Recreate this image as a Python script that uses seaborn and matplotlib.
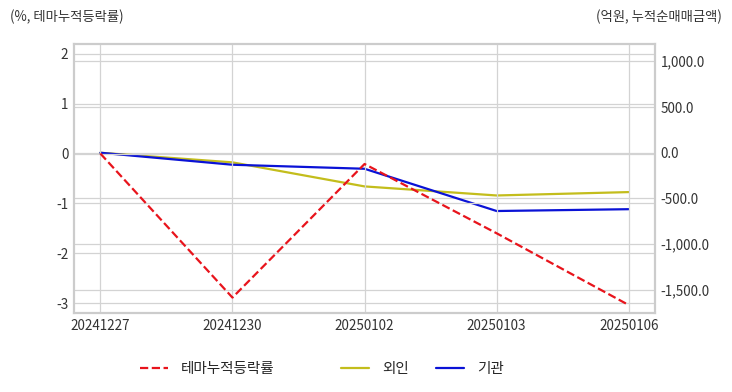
import seaborn as sns
import matplotlib.pyplot as plt
import matplotlib.ticker as mticker
import pandas as pd

dates = ["20241227", "20241230", "20250102", "20250103", "20250106"]
theme_rate = [0.0, -2.89, -0.21, -1.6, -3.04]
foreign = [0.0, -105, -368, -467, -430]
institution = [0.0, -131, -175, -637, -617]

df = pd.DataFrame({
    'date': dates,
    'theme': theme_rate,
    'foreign': foreign,
    'inst': institution,
})

sns.set_style("whitegrid")
plt.rcParams['font.family'] = ['Noto Sans CJK KR', 'DejaVu Sans']
plt.rcParams['axes.unicode_minus'] = False

fig = plt.figure(figsize=(7.32, 3.92), dpi=100)
ax1 = fig.add_axes([0.101, 0.2015, 0.794, 0.6865])
ax2 = ax1.twinx()

sns.lineplot(data=df, x='date', y='theme', ax=ax1, color='#e8141c',
             linestyle='--', linewidth=1.6, label='테마누적등락률', legend=False)
sns.lineplot(data=df, x='date', y='foreign', ax=ax2, color='#c3bd1c',
             linewidth=1.6, label='외인', legend=False)
sns.lineplot(data=df, x='date', y='inst', ax=ax2, color='#0a12d6',
             linewidth=1.6, label='기관', legend=False)

ax1.set_zorder(ax2.get_zorder() + 1)
ax1.patch.set_visible(False)

ax1.set_xlim(-0.2, 4.2)
ax1.set_ylim(-3.2, 2.2)
ax2.set_ylim(-1752, 1190)
ax1.set_yticks([-3, -2, -1, 0, 1, 2])
ax2.set_yticks([-1500, -1000, -500, 0, 500, 1000])
ax2.yaxis.set_major_formatter(mticker.FuncFormatter(lambda v, p: f"{v:,.1f}"))

grid_c = '#d3d3d3'
for ax in (ax1, ax2):
    ax.set_xlabel('')
    ax.set_ylabel('')
    ax.tick_params(length=0, labelsize=9.7, colors='#333333', pad=4)
    for s in ax.spines.values():
        s.set_color('#cccccc')
        s.set_linewidth(1.5)
ax1.grid(True, color=grid_c, linewidth=0.9)
ax2.grid(True, axis='y', color=grid_c, linewidth=0.9)
ax2.grid(False, axis='x')

fig.text(0.014, 0.958, '(%, 테마누적등락률)', fontsize=9.6, color='#333333', va='center')
fig.text(0.986, 0.958, '(억원, 누적순매매금액)', fontsize=9.6, color='#333333',
         va='center', ha='right')

h1, l1 = ax1.get_legend_handles_labels()
h2, l2 = ax2.get_legend_handles_labels()
leg_kw = dict(frameon=False, fontsize=10.5, handlelength=1.9, handletextpad=0.9,
              borderpad=0, borderaxespad=0)
fig.legend(h1, l1, loc='center left', bbox_to_anchor=(140 / 732, 0.058), **leg_kw)
fig.legend(h2, l2, loc='center left', bbox_to_anchor=(341 / 732, 0.058), ncol=2,
           columnspacing=1.9, **leg_kw)

plt.savefig('out.png', dpi=100)
